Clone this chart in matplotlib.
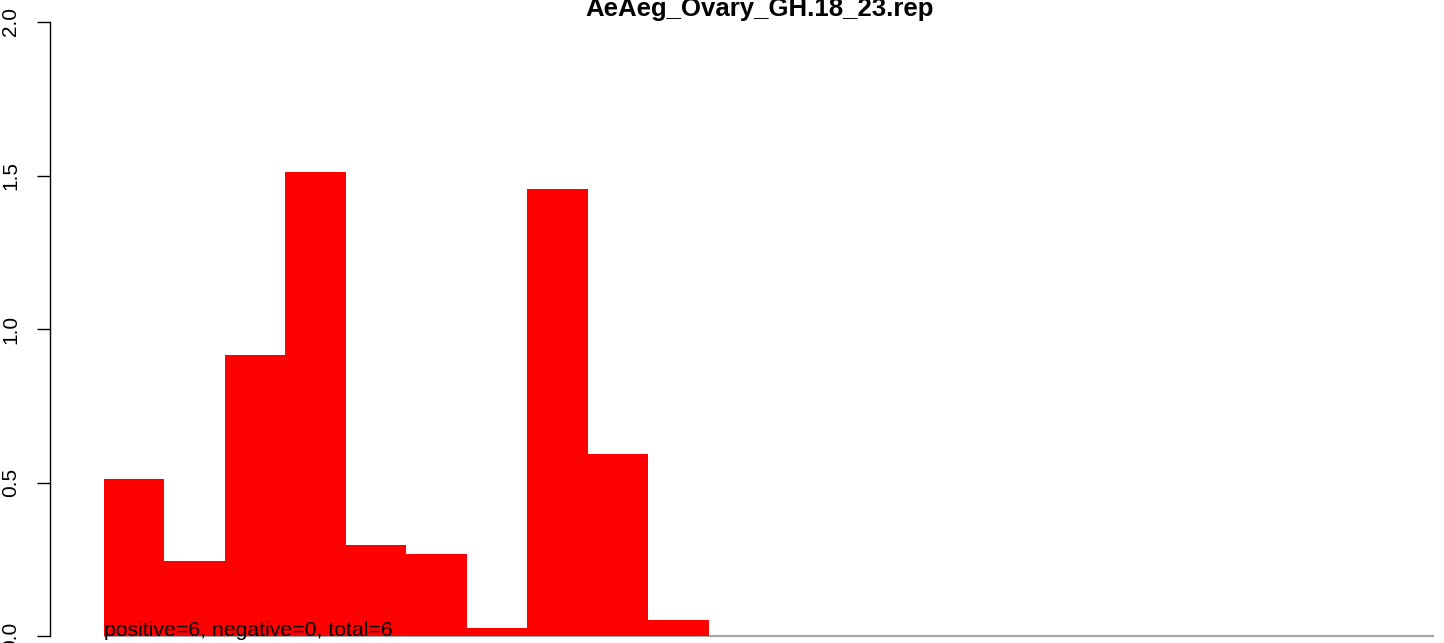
import numpy as np
import matplotlib.pyplot as plt

plt.rcParams['font.family'] = ['Liberation Sans', 'DejaVu Sans']

title = 'AeAeg_Ovary_GH.18_23.rep'
note = 'positive=6, negative=0, total=6'
# 22 bins, only the first 10 have a value
heights = [0.511, 0.243, 0.915, 1.511, 0.296, 0.268, 0.026, 1.457, 0.593, 0.052,
           0, 0, 0, 0, 0, 0, 0, 0, 0, 0, 0, 0]
yticks = [0.0, 0.5, 1.0, 1.5, 2.0]

W, H = 1444, 643
fig = plt.figure(figsize=(W / 100, H / 100), dpi=100)

# plot box in pixels: bars from x=104 to 1434, y=0 at 636, y=2 at 22
x0, x1, y0, y1 = 104, 1434, 636, 22
ax = fig.add_axes([x0 / W, 1 - y0 / H, (x1 - x0) / W, (y0 - y1) / H])

n = len(heights)
ax.hlines(0, 0, n, color='#A6A6A6', lw=1.6, zorder=1, clip_on=False)
ax.bar(np.arange(n), heights, width=1.0, align='edge', color='#FF0000',
       edgecolor='none', zorder=2, clip_on=False)
ax.set_xlim(0, n)
ax.set_ylim(0, 2)

for s in ['top', 'right', 'bottom']:
    ax.spines[s].set_visible(False)
# axis line sits 54 px left of the first bar (points = px * 0.72)
ax.spines['left'].set_position(('outward', 54 * 0.72))
ax.spines['left'].set_linewidth(1.0)
ax.set_xticks([])
ax.set_yticks(yticks)
ax.set_yticklabels(['%.1f' % v for v in yticks], rotation=90, va='center', fontsize=15)
ax.tick_params(axis='y', length=9.3, width=1.0, pad=12)

ax.text(0, 0, note, ha='left', va='baseline', fontsize=15.3, zorder=3, clip_on=False)

fig.text(760 / W, 1 - 16 / H, title, ha='center', va='baseline',
         fontsize=18.5, fontweight='bold')

fig.savefig('out.png', dpi=100)
